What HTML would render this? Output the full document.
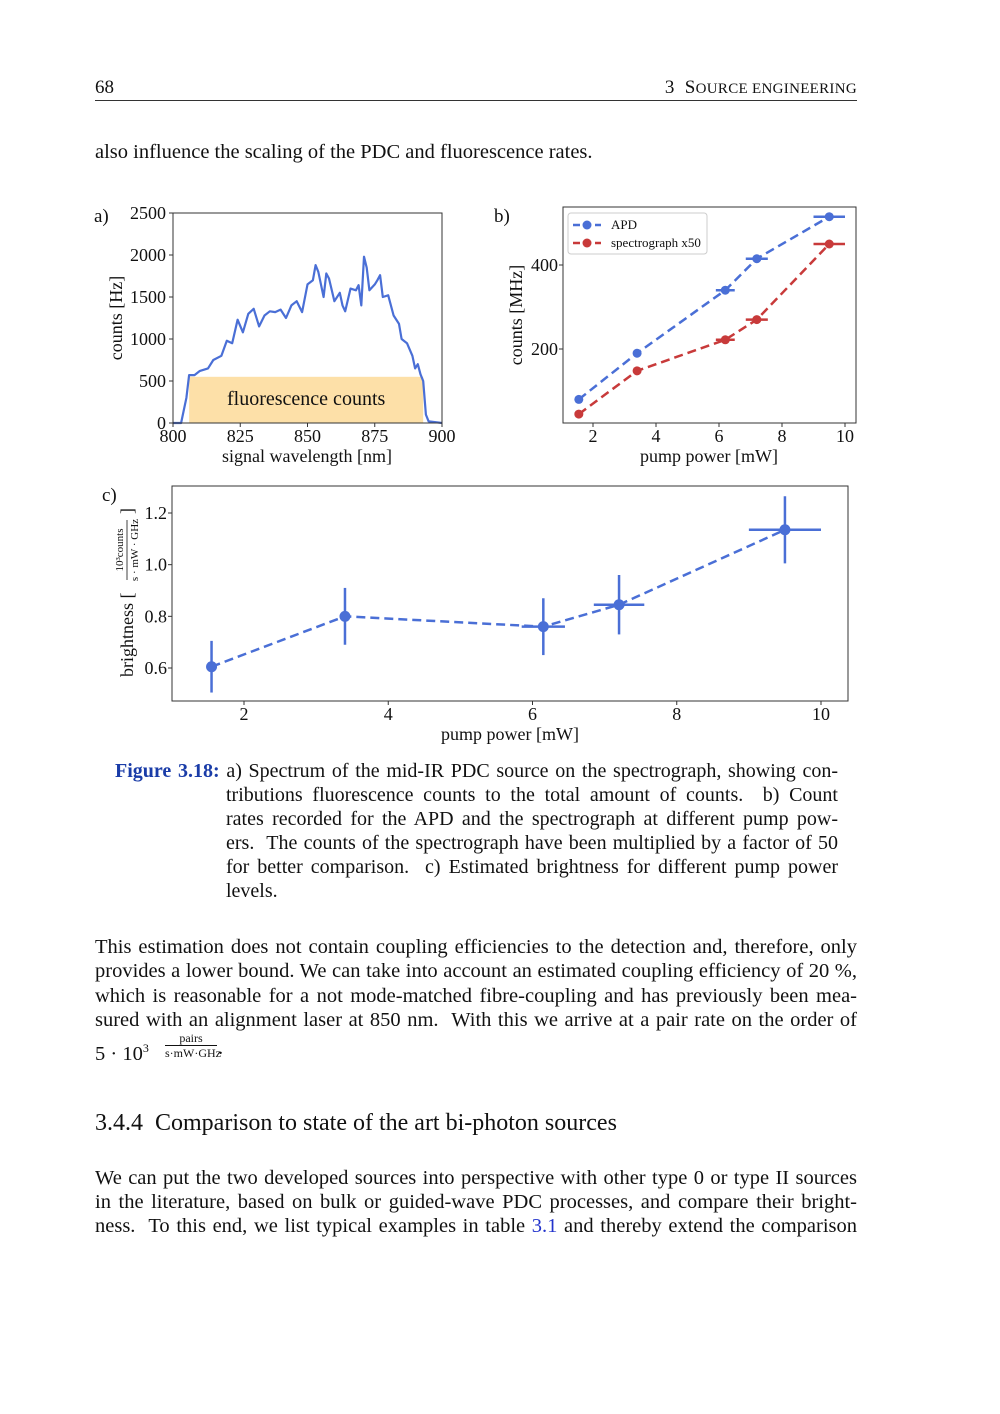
<!DOCTYPE html>
<html><head><meta charset="utf-8">
<style>
body{margin:0;background:#fff;}
#page{position:relative;width:1000px;height:1414px;background:#fff;font-family:"Liberation Serif",serif;color:#111;overflow:hidden}
.t{position:absolute;font-size:20.5px;white-space:nowrap;line-height:24px}
.j{position:absolute;font-size:20.5px;line-height:24px;white-space:nowrap;text-align:justify;text-align-last:justify;width:762px;left:95px}
.c{position:absolute;font-size:20px;line-height:24px;white-space:nowrap;text-align:justify;text-align-last:justify;width:612px;left:226px}
svg text{font-family:"Liberation Serif",serif;fill:#111}
</style></head><body>
<div id="page">
<div class="t" style="left:95px;top:76px;font-size:19px">68</div>
<div class="t" style="right:143px;top:76px;letter-spacing:0.3px;font-size:19px">3&nbsp;&nbsp;S<span style="font-size:15px">OURCE ENGINEERING</span></div>
<div style="position:absolute;left:95px;top:100px;width:762px;height:1px;background:#333"></div>
<div class="t" style="left:95px;top:140px">also influence the scaling of the PDC and fluorescence rates.</div>

<svg width="1000" height="760" style="position:absolute;left:0;top:0" id="fig"></svg>

<div class="c" style="left:115px;width:723px;top:759px"><b style="color:#1a3ca8">Figure 3.18:</b> a) Spectrum of the mid-IR PDC source on the spectrograph, showing con-</div>
<div class="c" style="top:783px">tributions fluorescence counts to the total amount of counts.&nbsp; b) Count</div>
<div class="c" style="top:807px">rates recorded for the APD and the spectrograph at different pump pow-</div>
<div class="c" style="top:831px">ers.&nbsp; The counts of the spectrograph have been multiplied by a factor of 50</div>
<div class="c" style="top:855px">for better comparison.&nbsp; c) Estimated brightness for different pump power</div>
<div class="t" style="left:226px;top:879px;font-size:20px">levels.</div>

<div class="j" style="top:935px">This estimation does not contain coupling efficiencies to the detection and, therefore, only</div>
<div class="j" style="top:959px">provides a lower bound. We can take into account an estimated coupling efficiency of 20 %,</div>
<div class="j" style="top:984px">which is reasonable for a not mode-matched fibre-coupling and has previously been mea-</div>
<div class="j" style="top:1008px">sured with an alignment laser at 850 nm.&nbsp; With this we arrive at a pair rate on the order of</div>
<div class="t" style="left:95px;top:1036px">5 · 10<sup style="font-size:12px">3</sup></div>
<div style="position:absolute;left:165px;top:1031px;font-size:12px;text-align:center;width:52px;line-height:14px">pairs<div style="border-top:1px solid #111">s·mW·GHz</div></div>
<div class="t" style="left:218px;top:1036px">.</div>

<div class="t" style="left:95px;top:1111px;font-size:24px">3.4.4&nbsp; Comparison to state of the art bi-photon sources</div>
<div class="j" style="top:1166px">We can put the two developed sources into perspective with other type 0 or type II sources</div>
<div class="j" style="top:1190px">in the literature, based on bulk or guided-wave PDC processes, and compare their bright-</div>
<div class="j" style="top:1214px">ness.&nbsp; To this end, we list typical examples in table <span style="color:#2233cc">3.1</span> and thereby extend the comparison</div>
</div>
<script>
// Panel a data
const specWl=[800,803,805,806,808,810,813,815,818,820,822,824,826,828,830,832,834,836,838,840,842,844,846,848,850,852,853,854,856,857,858,860,862,863,864,866,868,869,870,871,872,873,875,876,877,878,880,882,884,885,887,889,890,891,892,893,894,895,900];
const specCounts=[0,0,300,570,570,620,650,750,800,980,950,1230,1080,1300,1360,1150,1280,1330,1320,1350,1250,1400,1450,1320,1650,1700,1880,1800,1500,1780,1720,1450,1550,1400,1330,1600,1580,1640,1400,1980,1850,1580,1650,1700,1760,1500,1520,1280,1180,1000,950,800,650,700,580,500,100,20,0];
const fluorRange=[806,893];
const fluorLevel=550;
const aXTicks=[800,825,850,875,900];
const aYTicks=[0,500,1000,1500,2000,2500];
// Panel b data
const bPower=[1.55,3.4,6.2,7.2,9.5];
const bPowerErr=[0,0,0.3,0.35,0.5];
const apdCounts=[80,190,340,415,515];
const specX50Counts=[45,148,222,270,450];
const bXTicks=[2,4,6,8,10];
const bYTicks=[200,400];
// Panel c data
const cPower=[1.55,3.4,6.15,7.2,9.5];
const cPowerErr=[0,0,0.3,0.35,0.5];
const brightness=[0.605,0.80,0.76,0.845,1.135];
const brightnessErr=[0.1,0.11,0.11,0.115,0.13];
const cXTicks=[2,4,6,8,10];
const cYTicks=[0.6,0.8,1.0,1.2];

const NS="http://www.w3.org/2000/svg";
const svg=document.getElementById('fig');
function el(tag,attrs,parent){const e=document.createElementNS(NS,tag);for(const k in attrs)e.setAttribute(k,attrs[k]);(parent||svg).appendChild(e);return e;}
function txt(x,y,s,size,anchor,name){const t=el('text',{x:x,y:y,'font-size':size,'text-anchor':anchor||'middle'});t.textContent=s;


return t;}
const blue="#4a6fd6", red="#c83a3a";
const TS=18;

// ---- Panel a
const ax=v=>173+(v-800)*(442-173)/100, ay=v=>423-v*(423-213)/2500;
const fr=el('rect',{x:ax(fluorRange[0]),y:ay(fluorLevel),width:ax(fluorRange[1])-ax(fluorRange[0]),height:ay(0)-ay(fluorLevel),fill:'#fde0a8'});


txt((ax(fluorRange[0])+ax(fluorRange[1]))/2,405,'fluorescence counts',20,'middle','fluorescence-label');
let d=specWl.map((w,i)=>(i?'L':'M')+ax(w).toFixed(1)+','+ay(specCounts[i]).toFixed(1)).join('');
const sp=el('path',{d:d,fill:'none',stroke:blue,'stroke-width':2.2,'stroke-linejoin':'round'});


const fa=el('rect',{x:173,y:213,width:269,height:210,fill:'none',stroke:'#333','stroke-width':1});


aXTicks.forEach(v=>{el('line',{x1:ax(v),x2:ax(v),y1:423,y2:427,stroke:'#333'});txt(ax(v),442,v,TS,'middle','x-tick-a');});
aYTicks.forEach(v=>{el('line',{x1:169,x2:173,y1:ay(v),y2:ay(v),stroke:'#333'});txt(166,ay(v)+6,v,TS,'end','y-tick-a');});
txt(307,462,'signal wavelength [nm]',18,'middle','x-axis-title-a');
let ya=txt(0,0,'counts [Hz]',18,'middle','y-axis-title-a');ya.setAttribute('transform','translate(122,318) rotate(-90)');
txt(94,222,'a)',19,'start','panel-label-a');

// ---- Panel b
const bx=v=>593+(v-2)*(845-593)/8, by=v=>433-v*0.42;
function series(xs,ys,xe,col,name){
  const p=el('path',{d:xs.map((x,i)=>(i?'L':'M')+bx(x)+','+by(ys[i])).join(''),fill:'none',stroke:col,'stroke-width':2.5,'stroke-dasharray':'9,5'});
  
  
  xs.forEach((x,i)=>{
    if(xe[i]>0){const l=el('line',{x1:bx(x-xe[i]),x2:bx(x+xe[i]),y1:by(ys[i]),y2:by(ys[i]),stroke:col,'stroke-width':2.5});
    
    }
    const c=el('circle',{cx:bx(x),cy:by(ys[i]),r:4.5,fill:col});
    
    
  });
}
series(bPower,apdCounts,bPowerErr,blue,'apd');
series(bPower,specX50Counts,bPowerErr,red,'spectrograph');
const fb=el('rect',{x:563,y:207,width:293,height:216,fill:'none',stroke:'#333'});


bXTicks.forEach(v=>{el('line',{x1:bx(v),x2:bx(v),y1:423,y2:427,stroke:'#333'});txt(bx(v),442,v,TS,'middle','x-tick-b');});
bYTicks.forEach(v=>{el('line',{x1:559,x2:563,y1:by(v),y2:by(v),stroke:'#333'});txt(558,by(v)+6,v,TS,'end','y-tick-b');});
txt(709,462,'pump power [mW]',18,'middle','x-axis-title-b');
let yb=txt(0,0,'counts [MHz]',18,'middle','y-axis-title-b');yb.setAttribute('transform','translate(522,315) rotate(-90)');
txt(494,222,'b)',19,'start','panel-label-b');
const lg=el('rect',{x:568,y:213,width:139,height:41,fill:'#fff',stroke:'#ccc',rx:3});


[['APD',blue,225],['spectrograph x50',red,243]].forEach(([n,c,y])=>{
  el('line',{x1:573,x2:601,y1:y,y2:y,stroke:c,'stroke-width':2.5,'stroke-dasharray':'7,4'});
  el('circle',{cx:587,cy:y,r:4.5,fill:c});
  txt(611,y+4,n,13,'start','legend-entry');
});

// ---- Panel c
const cx=v=>244+(v-2)*(821-244)/8, cy=v=>668-(v-0.6)*(668-513)/0.6;
const cl=el('path',{d:cPower.map((x,i)=>(i?'L':'M')+cx(x)+','+cy(brightness[i])).join(''),fill:'none',stroke:blue,'stroke-width':2.5,'stroke-dasharray':'9,5'});


cPower.forEach((x,i)=>{
  const y=brightness[i],e=brightnessErr[i];
  const ve=el('line',{x1:cx(x),x2:cx(x),y1:cy(y-e),y2:cy(y+e),stroke:blue,'stroke-width':2.5});
  
  
  if(cPowerErr[i]>0){const he=el('line',{x1:cx(x-cPowerErr[i]),x2:cx(x+cPowerErr[i]),y1:cy(y),y2:cy(y),stroke:blue,'stroke-width':2.5});
  
  }
  const c=el('circle',{cx:cx(x),cy:cy(y),r:5.5,fill:blue});
  
  
});
const fc=el('rect',{x:172,y:486,width:676,height:215,fill:'none',stroke:'#333'});


cXTicks.forEach(v=>{el('line',{x1:cx(v),x2:cx(v),y1:701,y2:705,stroke:'#333'});txt(cx(v),720,v,TS,'middle','x-tick-c');});
cYTicks.forEach(v=>{el('line',{x1:168,x2:172,y1:cy(v),y2:cy(v),stroke:'#333'});txt(167,cy(v)+6,v.toFixed(1),TS,'end','y-tick-c');});
txt(510,740,'pump power [mW]',18,'middle','x-axis-title-c');
const g=el('g',{transform:'translate(133,592) rotate(-90)'});


const t1=el('text',{x:-85,y:0,'font-size':18,'text-anchor':'start'},g);t1.textContent='brightness [';
const t2=el('text',{x:42,y:-10,'font-size':11,'text-anchor':'middle'},g);t2.textContent='10³counts';
el('line',{x1:12,x2:72,y1:-6,y2:-6,stroke:'#111','stroke-width':0.8},g);
const t3=el('text',{x:42,y:5,'font-size':11,'text-anchor':'middle'},g);t3.textContent='s · mW · GHz';
const t4=el('text',{x:78,y:0,'font-size':18,'text-anchor':'start'},g);t4.textContent=']';
txt(102,501,'c)',19,'start','panel-label-c');
</script>
</body></html>
